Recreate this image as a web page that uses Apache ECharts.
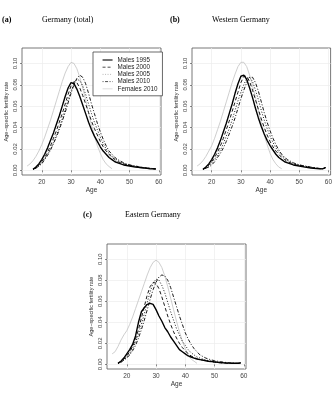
<!DOCTYPE html>
<html><head><meta charset="utf-8">
<script src="https://cdn.jsdelivr.net/npm/echarts@6/dist/echarts.min.js"></script>
<style>html,body{margin:0;padding:0;background:#fff}#c{width:335px;height:398px}</style>
</head><body><div id="c"></div><script>
// ---------- data ----------
const maleAges = [17,18,19,20,21,22,23,24,25,26,27,28,29,30,31,32,33,34,35,36,37,38,39,40,41,42,43,44,45,46,47,48,49,50,51,52,53,54,55,56,57,58,59];
const femaleAges = [15,16,17,18,19,20,21,22,23,24,25,26,27,28,29,30,31,32,33,34,35,36,37,38,39,40,41,42,43,44];
const seriesNames = ['Males 1995','Males 2000','Males 2005','Males 2010','Females 2010'];
const panelTitles = ['Germany (total)','Western Germany','Eastern Germany'];
const panelTags = ['(a)','(b)','(c)'];
const xTicks = [20,30,40,50,60];
const yTicks = [0,0.02,0.04,0.06,0.08,0.10];
const yTickLabels = ['0.00','0.02','0.04','0.06','0.08','0.10'];

// (a) Germany total
const a1995 = [0.001,0.003,0.006, 0.010,0.015,0.021,0.028,0.035,0.043,0.051,0.060,0.069,0.077, 0.082,0.081,0.076,0.069,0.061,0.053,0.045,0.038,0.032,0.027, 0.022,0.018,0.015,0.012,0.010,0.008,0.007,0.006,0.005,0.0045, 0.004,0.0035,0.003,0.0027,0.0024,0.002,0.0018,0.0015,0.0013,0.0012];
const a2000 = [0.001,0.002,0.005, 0.008,0.012,0.017,0.023,0.030,0.037,0.045,0.053,0.062,0.071, 0.079,0.083,0.082,0.077,0.070,0.062,0.054,0.046,0.039,0.033, 0.027,0.022,0.018,0.015,0.012,0.010,0.008,0.007,0.006,0.005, 0.0045,0.004,0.0035,0.003,0.0027,0.0023,0.002,0.0017,0.0015,0.0013];
const a2005 = [0.001,0.002,0.004, 0.007,0.011,0.015,0.020,0.026,0.033,0.040,0.048,0.057,0.066, 0.074,0.081,0.085,0.084,0.079,0.071,0.062,0.053,0.045,0.038, 0.031,0.025,0.020,0.016,0.013,0.011,0.009,0.0075,0.0065,0.0055, 0.005,0.0043,0.0038,0.0033,0.0029,0.0025,0.0022,0.0019,0.0016,0.0014];
const a2010 = [0.001,0.002,0.004, 0.006,0.010,0.014,0.019,0.025,0.031,0.038,0.046,0.054,0.063, 0.072,0.080,0.086,0.089,0.087,0.081,0.072,0.062,0.053,0.044, 0.036,0.029,0.023,0.018,0.015,0.012,0.010,0.0085,0.007,0.006, 0.0052,0.0045,0.004,0.0035,0.003,0.0026,0.0022,0.0019,0.0016,0.0014];
const aF2010 = [0.004,0.006,0.009,0.013,0.018, 0.024,0.031,0.039,0.047,0.056,0.065,0.074,0.083,0.091,0.097, 0.101,0.100,0.095,0.087,0.077,0.066,0.054,0.042,0.032,0.023, 0.016,0.010,0.006,0.0035,0.0015];

// (b) Western Germany
const b1995 = [0.001,0.003,0.006, 0.010,0.015,0.021,0.028,0.036,0.044,0.053,0.062,0.072,0.081, 0.088,0.089,0.085,0.077,0.068,0.058,0.049,0.041,0.034,0.028, 0.023,0.019,0.015,0.012,0.010,0.008,0.007,0.006,0.005,0.0045, 0.004,0.0035,0.003,0.0026,0.0022,0.0019,0.0016,0.0014,0.0013,0.0025];
const b2000 = [0.001,0.002,0.005, 0.008,0.012,0.017,0.023,0.030,0.038,0.046,0.055,0.064,0.073, 0.082,0.088,0.088,0.083,0.075,0.066,0.057,0.048,0.040,0.033, 0.027,0.022,0.018,0.015,0.012,0.010,0.008,0.007,0.006,0.005, 0.0045,0.004,0.0035,0.003,0.0026,0.0022,0.0019,0.0016,0.0014,0.0025];
const b2005 = [0.001,0.002,0.004, 0.007,0.010,0.014,0.019,0.025,0.032,0.039,0.047,0.056,0.065, 0.073,0.080,0.086,0.087,0.083,0.075,0.066,0.056,0.047,0.039, 0.032,0.026,0.021,0.017,0.014,0.011,0.009,0.0075,0.0065,0.0055, 0.005,0.0043,0.0038,0.0033,0.0028,0.0024,0.002,0.0017,0.0015,0.0025];
const b2010 = [0.001,0.002,0.003, 0.005,0.008,0.012,0.016,0.021,0.027,0.034,0.041,0.049,0.058, 0.067,0.075,0.082,0.087,0.087,0.082,0.074,0.064,0.054,0.045, 0.037,0.030,0.024,0.019,0.015,0.012,0.010,0.0085,0.007,0.006, 0.0052,0.0045,0.004,0.0035,0.003,0.0025,0.0021,0.0018,0.0016,0.0025];
const bF2010 = [0.004,0.006,0.009,0.013,0.018, 0.023,0.030,0.038,0.046,0.055,0.064,0.073,0.082,0.090,0.097, 0.101,0.101,0.097,0.089,0.079,0.068,0.056,0.044,0.033,0.024, 0.016,0.010,0.006,0.003,0.0015];

// (c) Eastern Germany
const c1995 = [0.001,0.003,0.006, 0.010,0.014,0.019,0.027,0.040,0.050,0.054,0.057,0.058,0.057, 0.052,0.046,0.041,0.035,0.031,0.026,0.022,0.018,0.014,0.012, 0.010,0.008,0.007,0.006,0.005,0.0045,0.004,0.0035,0.003,0.0027, 0.0024,0.002,0.0018,0.0015,0.0013,0.0012,0.001,0.001,0.001,0.0015];
const c2000 = [0.001,0.003,0.005, 0.008,0.012,0.017,0.024,0.033,0.044,0.055,0.066,0.074,0.078, 0.077,0.072,0.064,0.055,0.046,0.038,0.031,0.025,0.020,0.016, 0.013,0.010,0.008,0.0065,0.0055,0.0045,0.004,0.0033,0.0028,0.0024, 0.002,0.0017,0.0015,0.0013,0.0012,0.001,0.001,0.0009,0.0009,0.0012];
const c2005 = [0.001,0.002,0.004, 0.007,0.010,0.015,0.021,0.029,0.038,0.048,0.059,0.069,0.077, 0.081,0.080,0.075,0.068,0.059,0.050,0.042,0.034,0.028,0.022, 0.018,0.014,0.011,0.009,0.007,0.006,0.005,0.0042,0.0035,0.003, 0.0025,0.0021,0.0018,0.0015,0.0013,0.0012,0.001,0.001,0.0009,0.0012];
const c2010 = [0.001,0.002,0.004, 0.006,0.009,0.013,0.018,0.025,0.033,0.042,0.052,0.062,0.071, 0.078,0.083,0.085,0.084,0.080,0.073,0.064,0.055,0.046,0.038, 0.030,0.024,0.019,0.015,0.012,0.009,0.0075,0.006,0.005,0.0042, 0.0035,0.003,0.0025,0.0021,0.0018,0.0015,0.0013,0.0011,0.001,0.0015];
const cF2010 = [0.010,0.012,0.017,0.023,0.028, 0.032,0.038,0.045,0.053,0.061,0.069,0.077,0.085,0.092,0.097, 0.099,0.097,0.092,0.084,0.074,0.063,0.052,0.041,0.031,0.022, 0.015,0.009,0.005,0.003,0.001];

// ---------- chart ----------
const panels = [
  [a1995,a2000,a2005,a2010,aF2010],
  [b1995,b2000,b2005,b2010,bF2010],
  [c1995,c2000,c2005,c2010,cF2010]
];
const styles = [
  {color:'#000', width:1.4, type:'solid'},
  {color:'#000', width:0.9, type:[3.5,2.5]},
  {color:'#000', width:0.9, type:[1,1.8]},
  {color:'#000', width:0.9, type:[1,1.8,3.5,1.8]},
  {color:'#c2c2c2', width:0.8, type:'solid'}
];
const legendStyles = [
  {color:'#000', width:1.1, type:'solid'},
  {color:'#000', width:0.7, type:[3,2]},
  {color:'#999', width:0.7, type:[1,1.5]},
  {color:'#000', width:0.7, type:[1,1.5,3,1.5]},
  {color:'#c8c8c8', width:0.6, type:'solid'}
];
const SANS = 'Liberation Sans, Arial, sans-serif';
const SERIF = 'Liberation Serif, Times New Roman, serif';
const grids = [
  {left:22, top:48, width:139, height:127},
  {left:192, top:48, width:139, height:127},
  {left:107, top:244, width:139, height:125}
];
const xAxes = [], yAxes = [], series = [];
grids.forEach((g,gi)=>{
  g.show = true; g.borderColor = '#555'; g.borderWidth = 0.8; g.containLabel = false;
  xAxes.push({
    gridIndex:gi, type:'value', min:13.24, max:60.76,
    name:'Age', nameLocation:'middle', nameGap:12,
    nameTextStyle:{fontSize:6.5, color:'#333', fontFamily:SANS},
    axisLine:{show:false},
    axisTick:{show:true, length:2, customValues:xTicks, lineStyle:{color:'#555', width:0.7}},
    axisLabel:{customValues:xTicks, fontSize:6.5, margin:4, color:'#444', fontFamily:SANS},
    splitLine:{show:true, lineStyle:{color:'#ececec', width:0.7}}
  });
  yAxes.push({
    gridIndex:gi, type:'value', min:-0.0044, max:0.1144,
    name:'Age\u2212specific fertility rate', nameLocation:'middle', nameGap:13, nameRotate:90,
    nameTextStyle:{fontSize:5.5, color:'#333', fontFamily:SANS},
    axisLine:{show:false},
    axisTick:{show:true, length:2, customValues:yTicks, lineStyle:{color:'#555', width:0.7}},
    axisLabel:{customValues:yTicks, rotate:90, fontSize:6, margin:4, color:'#444', fontFamily:SANS,
      formatter:(v)=>{const i=yTicks.findIndex(t=>Math.abs(t-v)<1e-9);return i>=0?yTickLabels[i]:'';}},
    splitLine:{show:true, lineStyle:{color:'#ececec', width:0.7}}
  });
  panels[gi].forEach((vals,si)=>{
    const ages = si===4 ? femaleAges : maleAges;
    series.push({
      type:'line', name:seriesNames[si], xAxisIndex:gi, yAxisIndex:gi,
      data: ages.map((a,i)=>[a, vals[i]]),
      symbol:'none', silent:true, animation:false, z: si===4 ? 1 : 5-si,
      lineStyle: styles[si], itemStyle:{color:styles[si].color}
    });
  });
});

const titles = [];
const tagPos = [[2,16],[170,16],[83,211]];
const namePos = [[42,16],[212,16],[125,211]];
panelTags.forEach((t,i)=>{
  titles.push({text:t, left:tagPos[i][0], top:tagPos[i][1], padding:0,
    textStyle:{fontFamily:SERIF, fontWeight:'bold', fontSize:8, color:'#000'}});
  titles.push({text:panelTitles[i], left:namePos[i][0], top:namePos[i][1], padding:0,
    textStyle:{fontFamily:SERIF, fontWeight:'normal', fontSize:8, color:'#000'}});
});

const chart = echarts.init(document.getElementById('c'), null, {renderer:'canvas'});
chart.setOption({
  animation:false,
  backgroundColor:'#fff',
  title: titles,
  grid: grids,
  xAxis: xAxes,
  yAxis: yAxes,
  legend: {
    data: seriesNames.map((n,i)=>({name:n, lineStyle:legendStyles[i]})),
    orient:'vertical', left:93, top:52,
    itemWidth:10, itemHeight:6, itemGap:1.2,
    padding:[5,5,4,9], borderColor:'#444', borderWidth:0.8, backgroundColor:'#fff',
    itemStyle:{opacity:0},
    textStyle:{fontSize:6.3, color:'#222', fontFamily:SANS, lineHeight:6},
    selectedMode:false
  },
  series: series
});
</script></body></html>
